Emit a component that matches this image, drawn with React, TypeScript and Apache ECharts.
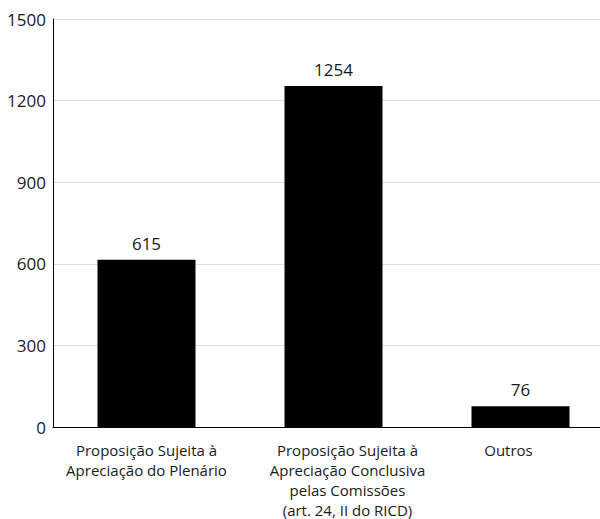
import React, { useEffect, useRef } from "react";
import * as echarts from "echarts";

const categories = [
  "Proposição Sujeita à\nApreciação do Plenário",
  "Proposição Sujeita à\nApreciação Conclusiva\npelas Comissões\n(art. 24, II do RICD)",
  "Outros",
];
const values = [615, 1254, 76];
const yTicks = { min: 0, max: 1500, interval: 300 };
// horizontal nudges of the category labels (label padding [left, right])
const labelPads = [
  [0, 0],
  [28, 0],
  [0, 24],
];

const FONT = "'Open Sans', 'Noto Sans', sans-serif";

export default function App() {
  const ref = useRef<HTMLDivElement>(null);
  useEffect(() => {
    if (!ref.current) return;
    const chart = echarts.init(ref.current, undefined, { renderer: "svg" });
    chart.setOption({
      animation: false,
      textStyle: { fontFamily: FONT },
      grid: {
        left: 53,
        right: -14,
        top: 19,
        bottom: 92,
        containLabel: false,
        outerBoundsMode: "none",
      },
      xAxis: {
        type: "category",
        data: categories.map((c, i) => ({
          value: c,
          textStyle: { padding: [0, labelPads[i][1], 0, labelPads[i][0]] },
        })),
        axisLine: { show: true, lineStyle: { color: "#000", width: 1 } },
        axisTick: { show: false },
        axisLabel: {
          color: "#1a1a1a",
          fontSize: 15,
          lineHeight: 20,
          margin: 13,
          interval: 0,
          fontFamily: FONT,
        },
        splitLine: { show: false },
      },
      yAxis: {
        type: "value",
        min: yTicks.min,
        max: yTicks.max,
        interval: yTicks.interval,
        axisLine: { show: true, lineStyle: { color: "#000", width: 1 } },
        axisTick: { show: false },
        axisLabel: {
          color: "#1a1a1a",
          fontSize: 17,
          margin: 7,
          fontFamily: FONT,
          formatter: (v: number) => String(v),
        },
        splitLine: { show: true, lineStyle: { color: "#dcdcdc", width: 1 } },
      },
      series: [
        {
          type: "bar",
          data: values,
          barWidth: 98,
          itemStyle: { color: "#000" },
          label: {
            show: true,
            position: "top",
            distance: 8,
            color: "#1a1a1a",
            fontSize: 17,
            fontFamily: FONT,
          },
        },
      ],
    });
    return () => chart.dispose();
  }, []);
  return (
    <div
      ref={ref}
      style={{ position: "absolute", left: 0, top: 0, width: 600, height: 519 }}
    />
  );
}
